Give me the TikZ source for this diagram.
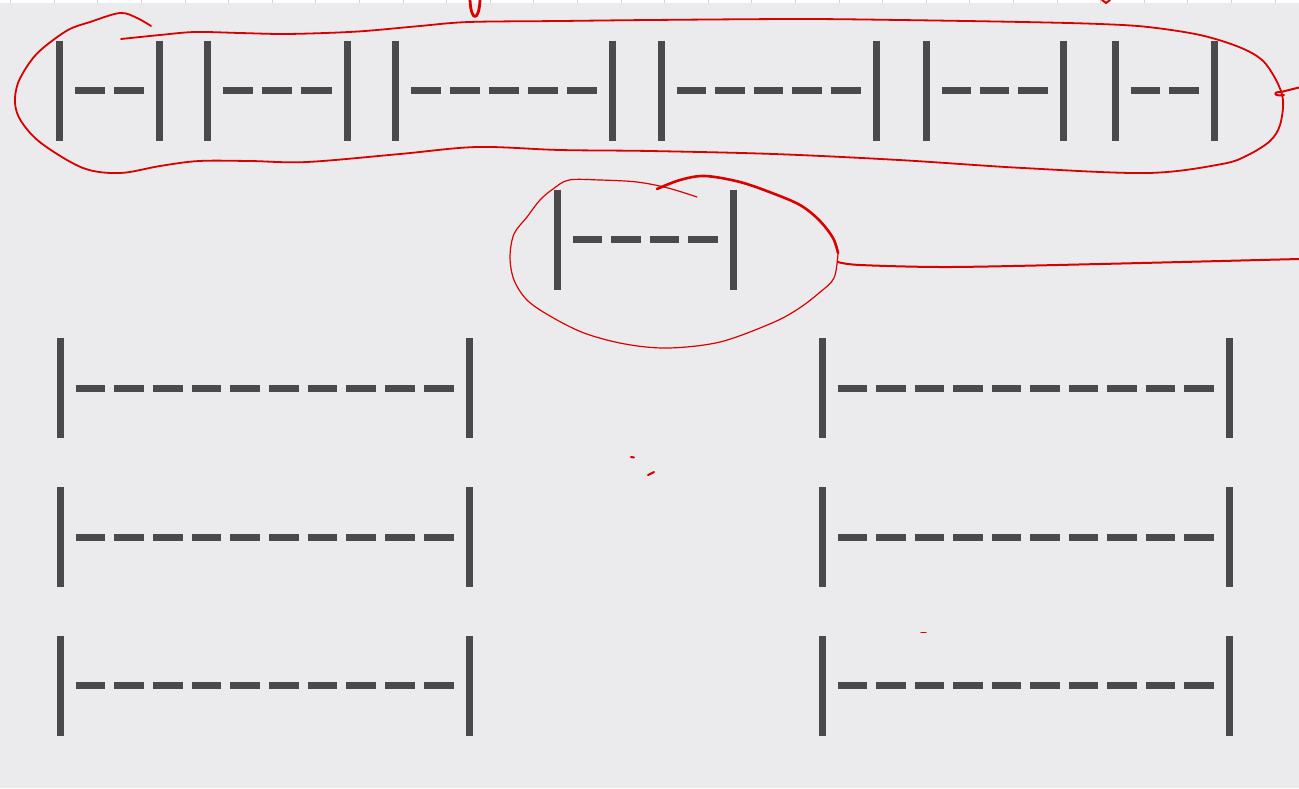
\documentclass[tikz,border=0pt]{standalone}
\usepackage{tikz}
\usetikzlibrary{calc}
\definecolor{pgbg}{RGB}{235,235,237}
\definecolor{pgink}{RGB}{74,74,76}
\definecolor{pgred}{RGB}{218,0,0}
\definecolor{pgtick}{RGB}{210,210,212}
\tikzset{
  barln/.style={draw=pgink, line width=3.5pt, line cap=butt},
  dashln/.style={draw=pgink, line width=3.5pt, line cap=butt},
  redpen/.style={draw=pgred, line width=1pt, line cap=round, line join=round},
  redthin/.style={redpen, line width=0.6pt},
  every picture/.append style={x=0.5pt, y=-0.5pt}
}
% one |----| group: name, left x, right x, middle y, number of dashes
\newcommand{\dashbar}[5]{%
  \coordinate (#1) at ({(#2+#3)/2},#4);
  \draw[barln] (#2,#4-50) -- (#2,#4+50);
  \draw[barln] (#3,#4-50) -- (#3,#4+50);
  \pgfmathsetmacro\dlen{(#3-#2-31-(#5-1)*9)/#5}
  \foreach \k in {1,...,#5}{
    \pgfmathsetmacro\xa{#2+15.5+(\k-1)*(\dlen+9)}
    \draw[dashln] (\xa,#4) -- ++(\dlen,0);
  }%
}

\begin{document}
\begin{tikzpicture}
  \fill[pgbg] (0,0) rectangle (1299,788);
  \useasboundingbox (0,0) rectangle (1299,788);
  \fill[white] (0,0) rectangle (1299,2.5);
  \foreach \t in {0,...,29}
    \draw[pgtick, line width=0.3pt] ({10.4+43.6*\t},0) -- ++(0,2.5);

  % top row
  \dashbar{t1}{59.7}{159}{90.5}{2}
  \dashbar{t2}{207}{347}{90.5}{3}
  \dashbar{t3}{395.5}{612}{90.5}{5}
  \dashbar{t4}{661}{876}{90.5}{5}
  \dashbar{t5}{926.5}{1063}{90.5}{3}
  \dashbar{t6}{1115}{1214}{90.5}{2}
  % middle
  \dashbar{m1}{557}{733}{239.5}{4}
  % two columns
  \foreach \r/\yy in {1/388,2/537,3/685.5}{
    \dashbar{l\r}{60}{469}{\yy}{10}
    \dashbar{r\r}{822}{1229}{\yy}{10}
  }

  % red marks
  \draw[redpen, line width=0.9pt] plot[smooth, tension=0.55] coordinates {
    (121,39) (160,35) (195,32) (240,33) (282,34) (325,33) (365,31) (420,26)
    (469,22) (560,21) (650,20) (799,19) (900,20) (1023,22) (1100,24)
    (1148,27) (1200,35) (1239,47) (1262,60) (1276,80) (1283,100) (1280,125)
    (1270,141) (1248,155) (1222,164) (1148,173) (1023,168) (899,160)
    (774,154) (650,151) (560,150) (477,147) (400,154) (307,162) (250,161)
    (199,161) (160,166) (120,173) (83,168) (41,143) (21,121) (15,103)
    (18,83) (30,62) (43,48) (68,30) (90,22) (120,13) (137,18) (151,26)};
  \coordinate (ringa) at (1281,92);
  \coordinate (edgea) at (1299,87.5);
  \draw[redpen] (ringa) .. controls (1270,92) and (1276,97) .. (1284,95);
  \draw[redpen] (ringa) -- (edgea);
  \draw[redpen, line width=1.4pt] (470,0) .. controls (471,22) and (479,22) .. (480,0);
  \draw[redpen] (1102,0) -- (1106,3) -- (1110,0);

  \draw[redpen, line width=1.3pt] plot[smooth, tension=0.55] coordinates {
    (657,189) (680,180) (705,176) (740,182) (772,193) (800,205) (819,220)
    (833,238) (838,253)};
  \draw[redthin] plot[smooth, tension=0.55] coordinates {
    (838,253) (834,278) (819,293) (798,309) (772,323) (720,342)
    (668,348) (625,344) (584,333) (550,316) (527,300) (514,280) (510,257)
    (514,234) (527,217) (540,200) (553,189) (569,180) (600,180) (637,182)
    (668,188) (697,197)};
  \coordinate (ringb) at (838,262);
  \coordinate (edgeb) at (1299,259);
  \draw[redpen] plot[smooth, tension=0.5] coordinates {
    (ringb) (860,265) (950,267) (1100,264) (edgeb)};

  \draw[redpen] (631,457) -- (634,457.5);
  \draw[redpen] (648,475) -- (654,472);
  \draw[redthin] (921,632.5) -- (926,632.5);
\end{tikzpicture}
\end{document}
